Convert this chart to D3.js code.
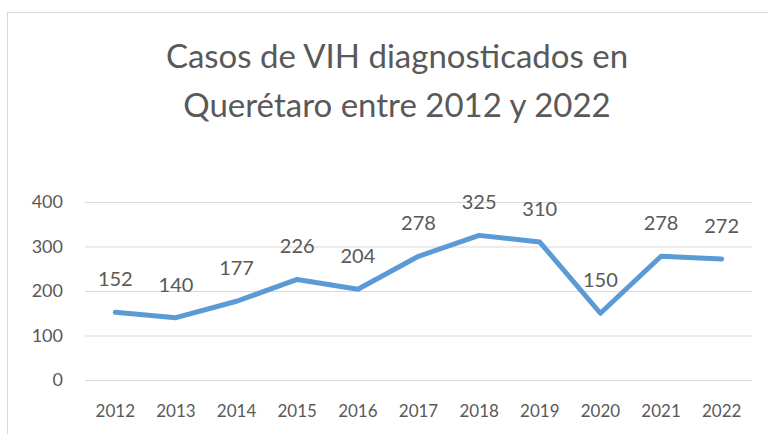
<!DOCTYPE html>
<html lang="es">
<head>
<meta charset="UTF-8">
<title>Casos de VIH en Querétaro</title>
<script src="https://d3js.org/d3.v7.min.js"></script>
<style>
  body { margin: 0; background: #fff; }
  text { font-family: Lato, "Open Sans", sans-serif; fill: #595959; }
  .grid line { stroke: #d9d9d9; stroke-width: 1; }
  .line { fill: none; stroke: #5b9bd5; stroke-width: 5; stroke-linejoin: round; stroke-linecap: round; }
</style>
</head>
<body>
<svg id="chart" width="768" height="434"></svg>
<script>
  const years = ["2012", "2013", "2014", "2015", "2016", "2017", "2018", "2019", "2020", "2021", "2022"];
  const cases = [152, 140, 177, 226, 204, 278, 325, 310, 150, 278, 272];
  const yTicks = [0, 100, 200, 300, 400];
  const titleLines = ["Casos de VIH diagnosticados en", "Querétaro entre 2012 y 2022"];

  const svg = d3.select("#chart");

  // marco del gráfico
  svg.append("rect")
    .attr("x", 7.5).attr("y", 12.5)
    .attr("width", 800).attr("height", 500)
    .attr("fill", "#fff").attr("stroke", "#d9d9d9");

  const x = d3.scaleBand().domain(years).range([85, 752]);
  const y = d3.scaleLinear().domain([0, 400]).range([380, 202]);

  // título
  svg.append("text")
    .attr("text-anchor", "middle")
    .style("font-size", "33px")
    .selectAll("tspan").data(titleLines).join("tspan")
    .attr("x", 397)
    .attr("y", (d, i) => 68 + i * 49)
    .text(d => d);

  // rejilla
  svg.append("g").attr("class", "grid")
    .selectAll("line").data(yTicks).join("line")
    .attr("x1", 85).attr("x2", 752)
    .attr("y1", d => y(d) + 0.5).attr("y2", d => y(d) + 0.5);

  // eje y
  const yAxis = svg.append("g")
    .attr("transform", "translate(85,0)")
    .call(d3.axisLeft(y).tickValues(yTicks).tickSize(0).tickPadding(22));
  yAxis.select(".domain").remove();
  yAxis.selectAll("text").style("font-size", "18px").attr("fill", "#595959");

  // eje x
  const xAxis = svg.append("g")
    .attr("transform", "translate(0,380)")
    .call(d3.axisBottom(x).tickSize(0).tickPadding(25));
  xAxis.select(".domain").remove();
  xAxis.selectAll("text").style("font-size", "17px").attr("fill", "#595959");

  const cx = d => x(d) + x.bandwidth() / 2;

  svg.append("path")
    .datum(cases)
    .attr("class", "line")
    .attr("d", d3.line().x((d, i) => cx(years[i])).y(d => y(d)));

  // etiquetas de datos
  svg.append("g")
    .selectAll("text").data(cases).join("text")
    .attr("x", (d, i) => cx(years[i]))
    .attr("y", d => y(d) - 26)
    .attr("text-anchor", "middle")
    .style("font-size", "20px")
    .text(d => d);
</script>
</body>
</html>
